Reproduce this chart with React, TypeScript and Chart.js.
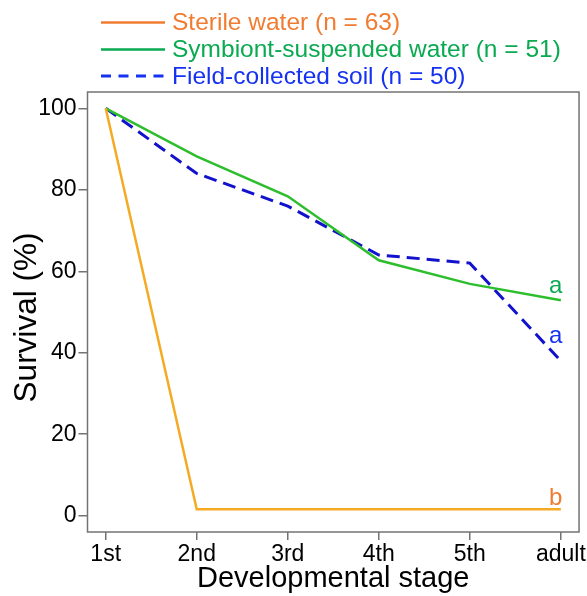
import React, { useEffect, useRef } from 'react';
import { Chart, registerables } from 'chart.js';

Chart.register(...registerables);

const stages = ['1st', '2nd', '3rd', '4th', '5th', 'adult'];
const sterile = [100, 1.6, 1.6, 1.6, 1.6, 1.6];
const symbiont = [100, 88.2, 78.4, 62.7, 56.9, 52.9];
const field = [100, 84, 76, 64, 62, 38];
const seriesLabels = [
  'Sterile water (n = 63)',
  'Symbiont-suspended water (n = 51)',
  'Field-collected soil (n = 50)',
];
const groupLetters = ['b', 'a', 'a'];
const yTicks = [0, 20, 40, 60, 80, 100];
const yTitle = 'Survival (%)';
const xTitle = 'Developmental stage';

const FONT = "'Liberation Sans', Arial, Helvetica, sans-serif";
const lineColors = ['#F5AA23', '#2DBE2D', '#1212CC'];
const textColors = ['#F07C32', '#0AAA50', '#1432F0'];
const letterOffsets = [-4, -7, -18];

const decorPlugin = {
  id: 'rDecor',
  afterDraw(chart: any) {
    const { ctx, chartArea } = chart;
    ctx.save();
    // box
    ctx.strokeStyle = '#737373';
    ctx.lineWidth = 1.5;
    ctx.setLineDash([]);
    ctx.strokeRect(chartArea.left, chartArea.top, chartArea.right - chartArea.left, chartArea.bottom - chartArea.top);
    // y title
    ctx.save();
    ctx.translate(27, 317.5);
    ctx.rotate(-Math.PI / 2);
    ctx.font = `31.5px ${FONT}`;
    ctx.fillStyle = '#000';
    ctx.textAlign = 'center';
    ctx.textBaseline = 'middle';
    ctx.fillText(yTitle, 0, 0);
    ctx.restore();
    // group letters
    ctx.font = `24px ${FONT}`;
    ctx.textAlign = 'right';
    ctx.textBaseline = 'alphabetic';
    chart.data.datasets.forEach((ds: any, i: number) => {
      const meta = chart.getDatasetMeta(i);
      const pt = meta.data[meta.data.length - 1];
      ctx.fillStyle = textColors[i];
      ctx.fillText(groupLetters[i], pt.x + 1.5, pt.y + letterOffsets[i]);
    });
    // legend
    const rows = [22.5, 49.5, 76];
    ctx.font = `24.5px ${FONT}`;
    ctx.textAlign = 'left';
    ctx.textBaseline = 'middle';
    chart.data.datasets.forEach((ds: any, i: number) => {
      const y = rows[i];
      ctx.strokeStyle = textColors[i];
      ctx.lineWidth = i === 2 ? 3 : 2.5;
      ctx.setLineDash(i === 2 ? [10, 7.5] : []);
      ctx.beginPath();
      ctx.moveTo(101, y);
      ctx.lineTo(165, y);
      ctx.stroke();
      ctx.fillStyle = textColors[i];
      ctx.fillText(ds.label, 172, y + 1);
    });
    ctx.restore();
  },
};

export default function App() {
  const ref = useRef<HTMLCanvasElement | null>(null);
  useEffect(() => {
    if (!ref.current) return;
    const mk = (arr: number[]) => arr.map((v, i) => ({ x: i + 1, y: v }));
    const chart = new Chart(ref.current, {
      type: 'line',
      data: {
        datasets: [
          { label: seriesLabels[0], data: mk(sterile), borderColor: lineColors[0], borderWidth: 2.5, pointRadius: 0, tension: 0, fill: false },
          { label: seriesLabels[1], data: mk(symbiont), borderColor: lineColors[1], borderWidth: 2.5, pointRadius: 0, tension: 0, fill: false },
          { label: seriesLabels[2], data: mk(field), borderColor: lineColors[2], borderWidth: 3, borderDash: [13, 7], pointRadius: 0, tension: 0, fill: false },
        ],
      },
      options: {
        animation: false,
        responsive: false,
        maintainAspectRatio: false,
        layout: { padding: { top: 92, right: 6, left: 0, bottom: 0 } },
        plugins: { legend: { display: false }, tooltip: { enabled: false } },
        scales: {
          x: {
            type: 'linear',
            min: 0.8,
            max: 6.2,
            afterBuildTicks: (s: any) => { s.ticks = stages.map((_, i) => ({ value: i + 1 })); },
            afterFit: (s: any) => { s.height = 64; },
            ticks: {
              callback: (v: any) => stages[Math.round(Number(v)) - 1] ?? '',
              color: '#000',
              font: { family: FONT, size: 23 },
              padding: 1,
              maxRotation: 0,
              autoSkip: false,
            },
            grid: { drawOnChartArea: false, drawTicks: true, tickLength: 8, tickColor: '#737373', lineWidth: 1.5 },
            border: { display: false },
            title: { display: true, text: xTitle, color: '#000', font: { family: FONT, size: 29 }, padding: { top: 0, bottom: 0 } },
          },
          y: {
            type: 'linear',
            min: -4,
            max: 104,
            afterBuildTicks: (s: any) => { s.ticks = yTicks.map((v) => ({ value: v })); },
            afterFit: (s: any) => { s.width = 87.5; },
            ticks: {
              color: '#000',
              font: { family: FONT, size: 23 },
              padding: 2,
              autoSkip: false,
            },
            grid: { drawOnChartArea: false, drawTicks: true, tickLength: 9, tickColor: '#737373', lineWidth: 1.5 },
            border: { display: false },
            title: { display: false },
          },
        },
      },
      plugins: [decorPlugin],
    } as any);
    return () => chart.destroy();
  }, []);
  return (
    <div style={{ position: 'absolute', left: 0, top: 0, width: 587, height: 596, background: '#fff' }}>
      <canvas ref={ref} width={587} height={596} style={{ display: 'block', width: 587, height: 596 }} />
    </div>
  );
}
